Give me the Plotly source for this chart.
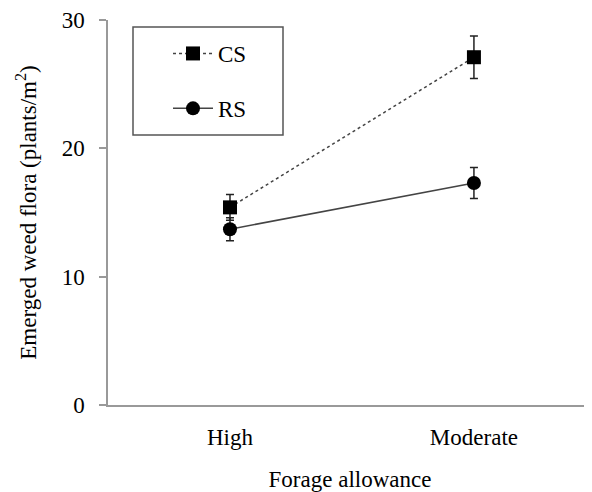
import plotly.graph_objects as go

categories = ["High", "Moderate"]
cs_values = [15.4, 27.1]
cs_errors = [1.0, 1.65]
rs_values = [13.7, 17.3]
rs_errors = [0.9, 1.2]
y_ticks = [0, 10, 20, 30]

FONT = "Liberation Serif, Times New Roman, serif"
x_idx = list(range(len(categories)))

W, H = 584, 484
L, R, T, B = 100, 0, 12, 87
PW = W - L - R
PH = H - T - B


def px_x(fx):
    return (fx - L) / PW


def px_y(fy):
    return (H - B - fy) / PH


fig = go.Figure()
fig.add_trace(go.Scatter(
    x=x_idx, y=cs_values, name="CS", mode="lines+markers",
    line=dict(color="#444444", width=1.5, dash="dot"),
    marker=dict(symbol="square", size=14, color="black"),
    error_y=dict(type="data", array=cs_errors, visible=True, color="#222222", thickness=1.5, width=4),
    legendgroup="cs",
))
fig.add_trace(go.Scatter(
    x=x_idx, y=rs_values, name="RS", mode="lines+markers",
    line=dict(color="#444444", width=1.5),
    marker=dict(symbol="circle", size=14, color="black"),
    error_y=dict(type="data", array=rs_errors, visible=True, color="#222222", thickness=1.5, width=4),
    legendgroup="rs",
))

fig.update_layout(
    width=W, height=H,
    margin=dict(l=L, r=R, t=T, b=B),
    paper_bgcolor="white", plot_bgcolor="white",
    font=dict(family=FONT, size=23, color="black"),
    showlegend=True,
    legend=dict(
        x=px_x(160), y=px_y(24), xanchor="left", yanchor="top",
        bgcolor="rgba(0,0,0,0)", borderwidth=0,
        tracegroupgap=22, traceorder="grouped", itemwidth=40,
        font=dict(family=FONT, size=23, color="black"),
    ),
    shapes=[dict(type="rect", xref="paper", yref="paper",
                 x0=px_x(125), x1=px_x(275),
                 y0=px_y(127), y1=px_y(19),
                 line=dict(color="#555555", width=1.5), fillcolor="rgba(0,0,0,0)")],
)
fig.update_xaxes(
    tickmode="array", tickvals=x_idx, ticktext=categories,
    range=[-0.5, 1.484], showgrid=False, zeroline=False,
    showline=True, linecolor="#999999", linewidth=1.5,
    ticks="", ticklabelstandoff=11,
    title=dict(text="Forage allowance", font=dict(family=FONT, size=23), standoff=23),
    automargin=False,
)
fig.update_yaxes(
    tickmode="array", tickvals=y_ticks, range=[0, 30],
    showgrid=False, zeroline=False,
    showline=True, linecolor="#999999", linewidth=1.5,
    ticks="outside", ticklen=7, tickcolor="#999999", tickwidth=1.5,
    ticklabelstandoff=10,
    title=dict(text="Emerged weed flora (plants/m<sup>2</sup>)", font=dict(family=FONT, size=23), standoff=19),
    automargin=False,
)

fig.write_html("out.html")
